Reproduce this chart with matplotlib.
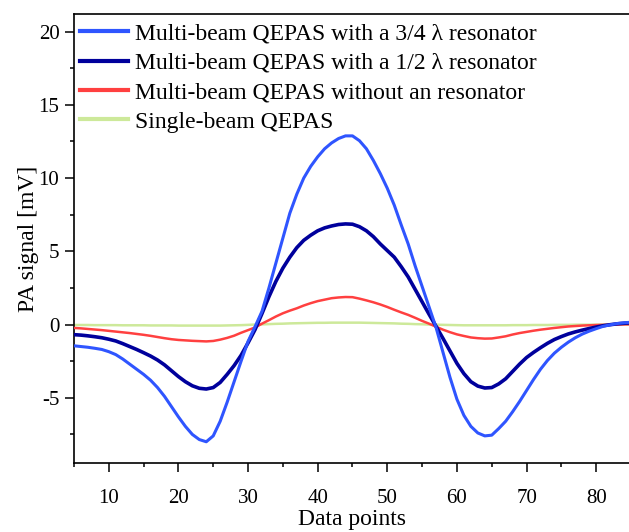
import matplotlib
matplotlib.use("Agg")
import matplotlib.pyplot as plt
from matplotlib.ticker import MultipleLocator

# data (one value per data point, 5..85)
x_points = list(range(5, 86))

res_34 = [-1.45, -1.5, -1.55, -1.62, -1.7, -1.85, -2.05, -2.35, -2.7, -3.05,
          -3.4, -3.8, -4.3, -4.9, -5.6, -6.3, -6.95, -7.5, -7.85, -8.0,
          -7.6, -6.6, -5.3, -3.9, -2.5, -1.15, -0.15, 0.9, 2.5, 4.2,
          5.9, 7.6, 8.9, 10.0, 10.8, 11.45, 12.0, 12.4, 12.7, 12.88,
          12.88, 12.55, 12.0, 11.2, 10.3, 9.3, 8.15, 6.8, 5.5, 4.0,
          2.6, 1.2, -0.2, -1.9, -3.6, -5.1, -6.2, -6.95, -7.4, -7.6,
          -7.55, -7.1, -6.6, -5.95, -5.25, -4.5, -3.75, -3.05, -2.45, -1.95,
          -1.55, -1.2, -0.9, -0.65, -0.45, -0.28, -0.12, -0.02, 0.07, 0.12,
          0.16]

res_12 = [-0.69, -0.72, -0.77, -0.83, -0.9, -1.0, -1.12, -1.3, -1.5, -1.7,
          -1.92, -2.15, -2.42, -2.75, -3.15, -3.55, -3.9, -4.18, -4.35, -4.4,
          -4.3, -3.95, -3.4, -2.8, -2.1, -1.25, -0.35, 0.75, 1.9, 2.95,
          3.85, 4.6, 5.25, 5.75, 6.1, 6.4, 6.6, 6.73, 6.83, 6.87,
          6.85, 6.68, 6.4, 6.0, 5.5, 5.05, 4.6, 3.95, 3.25, 2.4,
          1.55, 0.7, -0.12, -0.95, -1.8, -2.65, -3.35, -3.9, -4.2, -4.33,
          -4.3, -4.05, -3.7, -3.2, -2.7, -2.25, -1.9, -1.58, -1.28, -1.02,
          -0.82, -0.64, -0.5, -0.38, -0.27, -0.17, -0.08, -0.01, 0.05, 0.09,
          0.12]

no_res = [-0.23, -0.26, -0.3, -0.34, -0.38, -0.43, -0.48, -0.53, -0.58, -0.64,
          -0.7, -0.77, -0.85, -0.93, -1.0, -1.05, -1.08, -1.11, -1.13, -1.15,
          -1.12, -1.03, -0.91, -0.76, -0.56, -0.38, -0.2, 0.06, 0.3, 0.55,
          0.77, 0.95, 1.11, 1.3, 1.46, 1.6, 1.7, 1.8, 1.85, 1.88,
          1.87, 1.77, 1.65, 1.52, 1.37, 1.2, 1.01, 0.83, 0.66, 0.46,
          0.25, 0.06, -0.15, -0.35, -0.52, -0.67, -0.78, -0.88, -0.93, -0.96,
          -0.95, -0.88, -0.8, -0.68, -0.58, -0.5, -0.42, -0.35, -0.29, -0.23,
          -0.18, -0.13, -0.1, -0.07, -0.05, -0.03, -0.02, -0.01, 0.0, 0.01,
          0.02]

single = [-0.03, -0.03, -0.03, -0.04, -0.04, -0.04, -0.04, -0.05,
          -0.05, -0.05, -0.05, -0.06, -0.06, -0.06, -0.06, -0.07,
          -0.07, -0.07, -0.07, -0.07, -0.07, -0.07, -0.06, -0.05,
          -0.04, -0.02, 0.0, 0.01, 0.03, 0.05, 0.06, 0.08,
          0.09, 0.1, 0.11, 0.12, 0.12, 0.13, 0.13, 0.13,
          0.13, 0.13, 0.12, 0.11, 0.1, 0.09, 0.08, 0.06,
          0.05, 0.03, 0.02, 0.0, -0.01, -0.02, -0.03, -0.04,
          -0.05, -0.05, -0.05, -0.05, -0.05, -0.05, -0.05, -0.04,
          -0.04, -0.04, -0.03, -0.03, -0.03, -0.02, -0.02, -0.02,
          -0.01, -0.01, -0.01, -0.01, 0.0, 0.0, 0.0, 0.0, 0.0]

labels = ["Multi-beam QEPAS with a 3/4 \u03bb resonator",
          "Multi-beam QEPAS with a 1/2 \u03bb resonator",
          "Multi-beam QEPAS without an resonator",
          "Single-beam QEPAS"]

plt.rcParams['font.family'] = ['Liberation Serif', 'DejaVu Serif']
plt.rcParams['axes.unicode_minus'] = False

fig = plt.figure(figsize=(6.29, 5.32), dpi=100)
ax = fig.add_axes([0.1176, 0.1297, 0.8856, 0.844])

# draw order: back to front
ax.plot(x_points, single, color='#cde99a', lw=1.8, label=labels[3], zorder=2)
ax.plot(x_points, no_res, color='#ff4040', lw=1.8, label=labels[2], zorder=3)
ax.plot(x_points, res_12, color='#00009c', lw=2.6, label=labels[1], zorder=4)
ax.plot(x_points, res_34, color='#2f55ff', lw=2.2, label=labels[0], zorder=5)

ax.set_xlim(5, 85)
ax.set_ylim(-9.45, 21.2)

ax.xaxis.set_major_locator(MultipleLocator(10))
ax.xaxis.set_minor_locator(MultipleLocator(5))
ax.yaxis.set_major_locator(MultipleLocator(5))
ax.yaxis.set_minor_locator(MultipleLocator(2.5))
ax.tick_params(which='both', direction='out', width=1.1, labelsize=15,
               top=False, right=False)
ax.tick_params(which='major', length=6.5)
ax.tick_params(which='minor', length=3)
ax.tick_params(axis='x', pad=12)
ax.tick_params(axis='y', pad=4)

for s in ax.spines.values():
    s.set_linewidth(1.2)

ax.set_xlabel("Data points", fontsize=17, labelpad=1)
ax.set_ylabel("PA signal [mV]", fontsize=17, labelpad=0)

handles, labs = ax.get_legend_handles_labels()
order = [3, 2, 1, 0]
leg = ax.legend([handles[i] for i in order], [labs[i] for i in order],
                loc='upper left', bbox_to_anchor=(0.0, 0.993), frameon=False,
                fontsize=17, handlelength=2.05, handletextpad=0.3,
                labelspacing=0.33, borderaxespad=0.15, borderpad=0.1)
for line in leg.get_lines():
    line.set_linewidth(3)

fig.savefig("out.png", dpi=100)
